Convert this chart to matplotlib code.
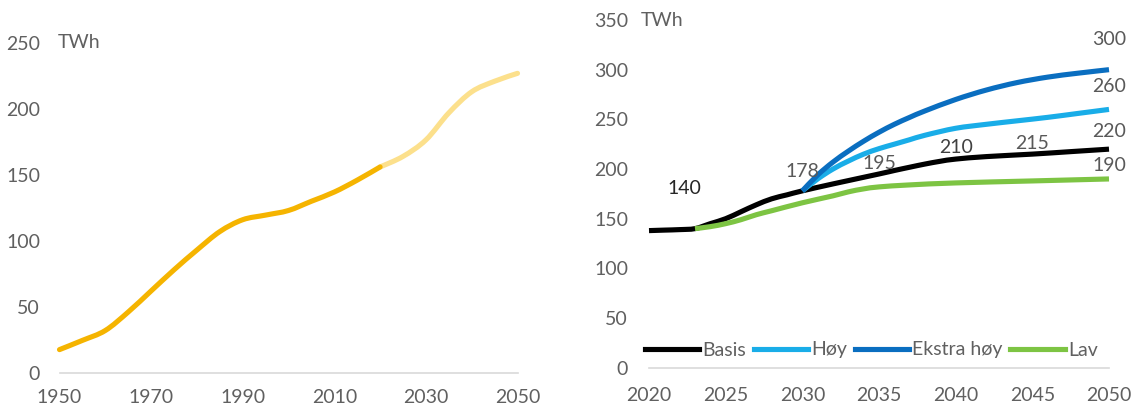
import matplotlib
matplotlib.use("Agg")
import matplotlib.pyplot as plt
from matplotlib.lines import Line2D
from matplotlib.path import Path
from matplotlib.patches import PathPatch

plt.rcParams['font.family'] = ['Lato', 'DejaVu Sans']

# Historical and projected consumption (left panel)
hist_years = [1950, 1955, 1960, 1965, 1970, 1975, 1980, 1985, 1990, 1995,
              2000, 2005, 2010, 2015, 2020]
hist_vals = [17.5, 24.5, 32, 46, 62, 78, 93, 107, 116, 119.5,
             123, 130, 137, 146, 156]
proj_years = [2020, 2025, 2030, 2035, 2040, 2045, 2050]
proj_vals = [156, 164, 176.5, 197, 213, 221, 227]

# Scenarios (right panel)
basis_years = [2020, 2021, 2022, 2023, 2024, 2025, 2026, 2027, 2028, 2029,
               2030, 2032, 2035, 2036, 2037, 2038, 2039, 2040, 2042, 2045,
               2047.5, 2050]
basis_vals = [138, 138.5, 139, 140, 145, 150, 157, 164, 170, 174,
              178, 185, 195, 198.5, 201.8, 205, 207.8, 210, 212.5, 215,
              217.5, 220]
hoy_years = [2030, 2031, 2032, 2033, 2034, 2035, 2036, 2037, 2038, 2040,
             2042, 2044, 2046, 2048, 2050]
hoy_vals = [178, 190, 200, 208, 215, 220.5, 225, 229.5, 234, 241,
            245, 248.5, 252, 256, 260]
ekstra_years = [2030, 2031, 2032, 2033, 2034, 2035, 2036, 2037, 2038, 2040,
                2042, 2044, 2046, 2048, 2050]
ekstra_vals = [178, 194, 207, 218, 228, 237, 245, 252, 258.5, 270,
               279.5, 287, 292.5, 296.5, 300]
lav_years = [2023, 2024, 2025, 2026, 2027, 2028, 2030, 2032, 2033, 2034, 2035,
             2037, 2040, 2045, 2050]
lav_vals = [140, 142, 145, 149, 154, 158, 166, 173, 177, 180, 182,
            184, 186, 188, 190]

series_names = ['Basis', 'Høy', 'Ekstra høy', 'Lav']
series_colors = ['#000000', '#19ADE8', '#0A6EC0', '#7DC443']

# Annotated values and where their text sits
label_x = [2022.3, 2030, 2035, 2040, 2045, 2050, 2050, 2050, 2050]
label_val = [140, 178, 195, 210, 215, 220, 190, 260, 300]
label_y = [180.5, 197.5, 206, 222, 225.5, 237.5, 204, 283, 330]
label_col = ['#262626', '#595959', '#595959', '#404040', '#595959',
             '#595959', '#595959', '#595959', '#595959']

left_xticks = [1950, 1970, 1990, 2010, 2030, 2050]
left_yticks = [0, 50, 100, 150, 200, 250]
right_xticks = [2020, 2025, 2030, 2035, 2040, 2045, 2050]
right_yticks = [0, 50, 100, 150, 200, 250, 300, 350]

W, H = 1137, 409
fig = plt.figure(figsize=(W / 100, H / 100), dpi=100)

TICK_COL = '#606060'
FS = 14
LW = 3.7


def smooth_line(ax, xs, ys, color, zorder=3, capstyle='butt'):
    """Draw a smoothed (Catmull-Rom style) line through the given points."""
    n = len(xs)
    verts = [(xs[0], ys[0])]
    codes = [Path.MOVETO]
    for i in range(n - 1):
        x0, y0 = (xs[i - 1], ys[i - 1]) if i > 0 else (xs[i], ys[i])
        x1, y1 = xs[i], ys[i]
        x2, y2 = xs[i + 1], ys[i + 1]
        x3, y3 = (xs[i + 2], ys[i + 2]) if i + 2 < n else (x2, y2)
        c1 = (x1 + (x2 - x0) / 6, y1 + (y2 - y0) / 6)
        c2 = (x2 - (x3 - x1) / 6, y2 - (y3 - y1) / 6)
        verts += [c1, c2, (x2, y2)]
        codes += [Path.CURVE4] * 3
    patch = PathPatch(Path(verts, codes), fill=False, edgecolor=color,
                      lw=LW, capstyle=capstyle, joinstyle='round',
                      zorder=zorder, clip_on=False)
    ax.add_patch(patch)


def style_axes(ax, xpad, ypad):
    for s in ax.spines.values():
        s.set_visible(False)
    ax.tick_params(length=0, colors=TICK_COL, labelsize=FS)
    ax.tick_params(axis='x', pad=xpad)
    ax.tick_params(axis='y', pad=ypad)
    ax.axhline(0, color='#D9D9D9', lw=1.2, zorder=1, clip_on=False)


# Left panel
axl = fig.add_axes([59.5 / W, (H - 372.7) / H, (517.5 - 59.5) / W, (372.7 - 43) / H])
style_axes(axl, 12, 14)
axl.set_xlim(1950, 2050)
axl.set_ylim(0, 250)
axl.set_xticks(left_xticks)
axl.set_yticks(left_yticks)
smooth_line(axl, proj_years, proj_vals, '#FCE08C', zorder=3, capstyle='round')
smooth_line(axl, hist_years, hist_vals, '#F5B400', zorder=4, capstyle='round')
axl.text(1949.6, 250, 'TWh', color=TICK_COL, fontsize=FS, va='center', ha='left')

# Right panel
axr = fig.add_axes([649 / W, (H - 367.7) / H, (1109 - 649) / W, (367.7 - 20) / H])
style_axes(axr, 14, 15)
axr.set_xlim(2020, 2050)
axr.set_ylim(0, 350)
axr.set_xticks(right_xticks)
axr.set_yticks(right_yticks)

data = [(basis_years, basis_vals), (hoy_years, hoy_vals),
        (ekstra_years, ekstra_vals), (lav_years, lav_vals)]
for (xs, ys), col in zip(data, series_colors):
    smooth_line(axr, xs, ys, col, zorder=3)

for x, y, v, c in zip(label_x, label_y, label_val, label_col):
    axr.text(x, y, str(v), color=c, fontsize=FS, ha='center', va='center')

axr.text(2019.45, 350, 'TWh', color=TICK_COL, fontsize=FS, va='center', ha='left')

handles = [Line2D([], [], color=c, lw=LW) for c in series_colors]
leg = axr.legend(handles, series_names, loc='center left',
                 bbox_to_anchor=(645 / W, (H - 350) / H),
                 bbox_transform=fig.transFigure, ncol=4, frameon=False,
                 fontsize=FS, handlelength=2.8, handletextpad=0.15,
                 columnspacing=0.4, borderpad=0, borderaxespad=0)
for t in leg.get_texts():
    t.set_color(TICK_COL)

fig.savefig('out.png', dpi=100, facecolor='white')
